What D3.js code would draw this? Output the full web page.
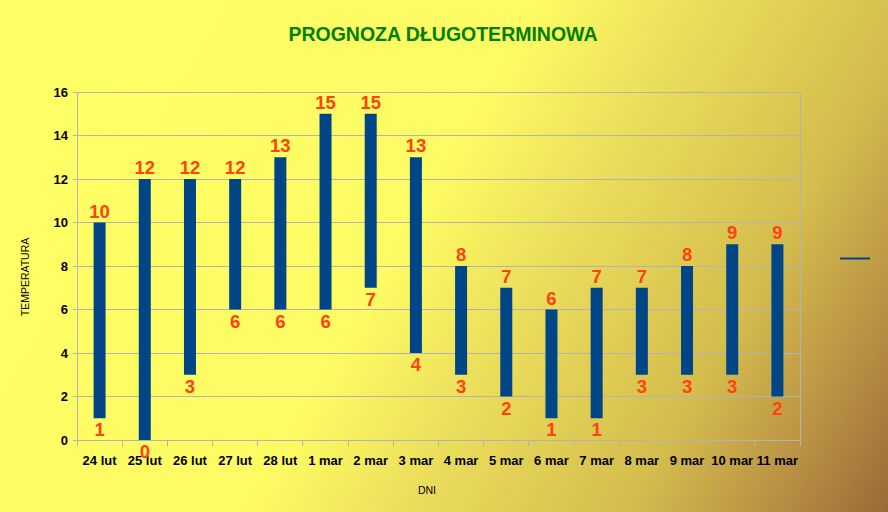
<!DOCTYPE html>
<html><head><meta charset="utf-8">
<script src="https://cdn.jsdelivr.net/npm/d3@7"></script>
<style>html,body{margin:0;padding:0;overflow:hidden;}</style>
</head><body>
<script>
const categories = ["24 lut","25 lut","26 lut","27 lut","28 lut","1 mar","2 mar","3 mar","4 mar","5 mar","6 mar","7 mar","8 mar","9 mar","10 mar","11 mar"];
const lowValues  = [1,0,3,6,6,6,7,4,3,2,1,1,3,3,3,2];
const highValues = [10,12,12,12,13,15,15,13,8,7,6,7,7,8,9,9];
const yTicks = [0,2,4,6,8,10,12,14,16];
const title = "PROGNOZA DŁUGOTERMINOWA";
const xTitle = "DNI";
const yTitle = "TEMPERATURA";

const W = 888, H = 512;
const margin = {left: 77, right: 88, top: 92, bottom: 72};
const svg = d3.select("body").append("svg").attr("width", W).attr("height", H)
  .style("font-family", "'Liberation Sans', Arial, sans-serif");

const defs = svg.append("defs");
const grad = defs.append("linearGradient").attr("id","bg")
  .attr("gradientUnits","userSpaceOnUse")
  .attr("x1",0).attr("y1",0).attr("x2",W).attr("y2",H);
[[0,"#ffff66"],[0.46,"#fdfb63"],[0.6,"#eadc5b"],[0.78,"#d4bc4d"],[0.9,"#b89044"],[1,"#9a6a35"]]
  .forEach(([o,c]) => grad.append("stop").attr("offset",o).attr("stop-color",c));
svg.append("rect").attr("width",W).attr("height",H).attr("fill","url(#bg)");

const x = d3.scaleBand().domain(categories).range([margin.left, W - margin.right]);
const y = d3.scaleLinear().domain([0,16]).range([H - margin.bottom, margin.top]);

// grid
svg.append("g").selectAll("line").data(yTicks).join("line")
  .attr("x1", margin.left - 4).attr("x2", W - margin.right)
  .attr("y1", d => y(d)).attr("y2", d => y(d))
  .attr("stroke", "#b3b3b3").attr("stroke-width", 1).attr("shape-rendering","crispEdges");
// plot frame
svg.append("rect").attr("x", margin.left).attr("y", margin.top)
  .attr("width", W - margin.right - margin.left).attr("height", y(0) - margin.top)
  .attr("fill","none").attr("stroke","#b3b3b3").attr("shape-rendering","crispEdges");

// x ticks at band boundaries
const bounds = categories.map(c => x(c)).concat([x.range()[1]]);
svg.append("g").selectAll("line").data(bounds).join("line")
  .attr("x1", d => d).attr("x2", d => d).attr("y1", y(0)).attr("y2", y(0) + 6)
  .attr("stroke","#b3b3b3").attr("shape-rendering","crispEdges");

// y tick labels
svg.append("g").selectAll("text").data(yTicks).join("text")
  .attr("x", margin.left - 9).attr("y", d => y(d)).attr("dy","0.36em")
  .attr("text-anchor","end").attr("font-size", 13).attr("font-weight","bold")
  .attr("fill","#000").text(d => d);

// x tick labels
svg.append("g").selectAll("text").data(categories).join("text")
  .attr("x", d => x(d) + x.bandwidth()/2).attr("y", y(0) + 25)
  .attr("text-anchor","middle").attr("font-size", 13).attr("font-weight","bold")
  .attr("fill","#000").text(d => d);

// bars
const barW = 12;
const data = categories.map((c,i) => ({c, lo: lowValues[i], hi: highValues[i]}));
svg.append("g").selectAll("rect").data(data).join("rect")
  .attr("x", d => x(d.c) + x.bandwidth()/2 - barW/2)
  .attr("y", d => y(d.hi)).attr("width", barW)
  .attr("height", d => y(d.lo) - y(d.hi)).attr("fill","#004586");

// labels
const lab = svg.append("g").attr("font-size", 18.5).attr("font-weight","bold")
  .attr("fill","#ff420e").attr("text-anchor","middle");
lab.selectAll("text.hi").data(data).join("text").attr("class","hi")
  .attr("x", d => x(d.c) + x.bandwidth()/2).attr("y", d => y(d.hi) - 5).text(d => d.hi);
lab.selectAll("text.lo").data(data).join("text").attr("class","lo")
  .attr("x", d => x(d.c) + x.bandwidth()/2).attr("y", d => y(d.lo) + 18).text(d => d.lo);

// titles
svg.append("text").attr("x", 443).attr("y", 41).attr("text-anchor","middle")
  .attr("font-size", 19.5).attr("font-weight","bold").attr("fill","#008000").text(title);
svg.append("text").attr("x", 427).attr("y", 494).attr("text-anchor","middle")
  .attr("font-size", 10.5).attr("fill","#000").text(xTitle);
svg.append("text").attr("transform","translate(29,277) rotate(-90)").attr("text-anchor","middle")
  .attr("font-size", 10.5).attr("fill","#000").text(yTitle);

// legend line
svg.append("line").attr("x1", 840).attr("x2", 870).attr("y1", 258.5).attr("y2", 258.5)
  .attr("stroke","#004586").attr("stroke-width", 2);
</script>
</body></html>
